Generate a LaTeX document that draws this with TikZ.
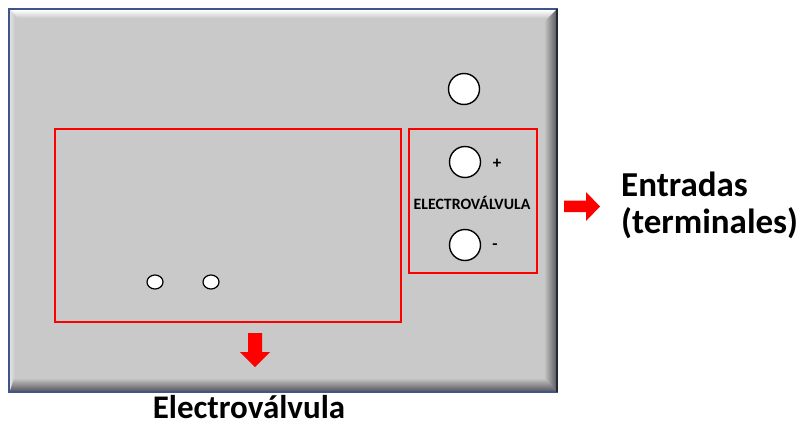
\documentclass[tikz,border=0pt]{standalone}
\usepackage{fontspec}
\usetikzlibrary{shapes.geometric}
\setmainfont{Carlito}
\begin{document}
\begin{tikzpicture}[x=1pt,y=-1pt,
  hole/.style={circle,draw=black,fill=white,line width=1.4pt,minimum size=31pt,inner sep=0pt},
  smallhole/.style={ellipse,draw=black,fill=white,line width=1.2pt,minimum width=16pt,minimum height=14pt,inner sep=0pt},
  redbox/.style={draw=red,line width=2pt},
  lbl/.style={font=\bfseries\fontsize{35}{40}\selectfont,inner sep=0pt},
  sign/.style={font=\bfseries\fontsize{17}{20}\selectfont},
  fatarrow/.style={fill=red,draw=none}]
\useasboundingbox (0,0) rectangle (798,426);
% panel
\fill[color={rgb,255:red,201;green,201;blue,201}] (9,9) rectangle (557,392);
% bevels
\shade[top color=white,bottom color={rgb,255:red,201;green,201;blue,201}] (10,10)--(556,10)--(548,18)--(18,18)--cycle;
\shade[left color={rgb,255:red,225;green,225;blue,225},right color={rgb,255:red,201;green,201;blue,201}] (10,10)--(15,15)--(15,386)--(10,391)--cycle;
\shade[left color={rgb,255:red,201;green,201;blue,201},right color={rgb,255:red,95;green,95;blue,100}] (544,22)--(556,10)--(556,391)--(544,380)--cycle;
\shade[top color={rgb,255:red,201;green,201;blue,201},bottom color={rgb,255:red,90;green,90;blue,95}] (14,378)--(544,378)--(556,391)--(10,391)--cycle;
\draw[color={rgb,255:red,60;green,85;blue,140},line width=1.2pt] (9,9) rectangle (557,392);
\draw[color={rgb,255:red,35;green,40;blue,55},line width=1.5pt] (557,9)--(557,392);
% red boxes
\node[redbox,minimum width=346pt,minimum height=193pt,inner sep=0pt] (left) at (228,225.5) {};
\node[redbox,minimum width=128pt,minimum height=144pt,inner sep=0pt] (right) at (473,201) {};
% holes
\node[hole] (top) at (464,89) {};
\node[hole] (plus) at (465,162) {};
\node[hole] (minus) at (465,245) {};
\node[sign] (plabel) at (497,164) {+};
\node[sign] (mlabel) at (495,247) {-};
\node[font=\bfseries\fontsize{15.8}{18}\selectfont,inner sep=0pt] (ev) at (472,203) {ELECTROVÁLVULA};
\node[smallhole] (s1) at (155,282) {};
\node[smallhole] (s2) at (211,282) {};
% arrows
\fill[fatarrow] (248,333)--(262,333)--(262,352)--(270,352)--(255,367)--(240,352)--(248,352)--cycle;
\fill[fatarrow] (564,200.5)--(586,200.5)--(586,192)--(600,206.5)--(586,221)--(586,212)--(564,212)--cycle;
% labels
\node[lbl,anchor=base west] (entradas) at (621,196) {Entradas};
\node[lbl,anchor=base west] (terminales) at (621,233) {(terminales)};
\node[lbl,anchor=base,font=\bfseries\fontsize{33}{38}\selectfont] (electro) at (249,418.5) {Electroválvula};
\end{tikzpicture}
\end{document}
